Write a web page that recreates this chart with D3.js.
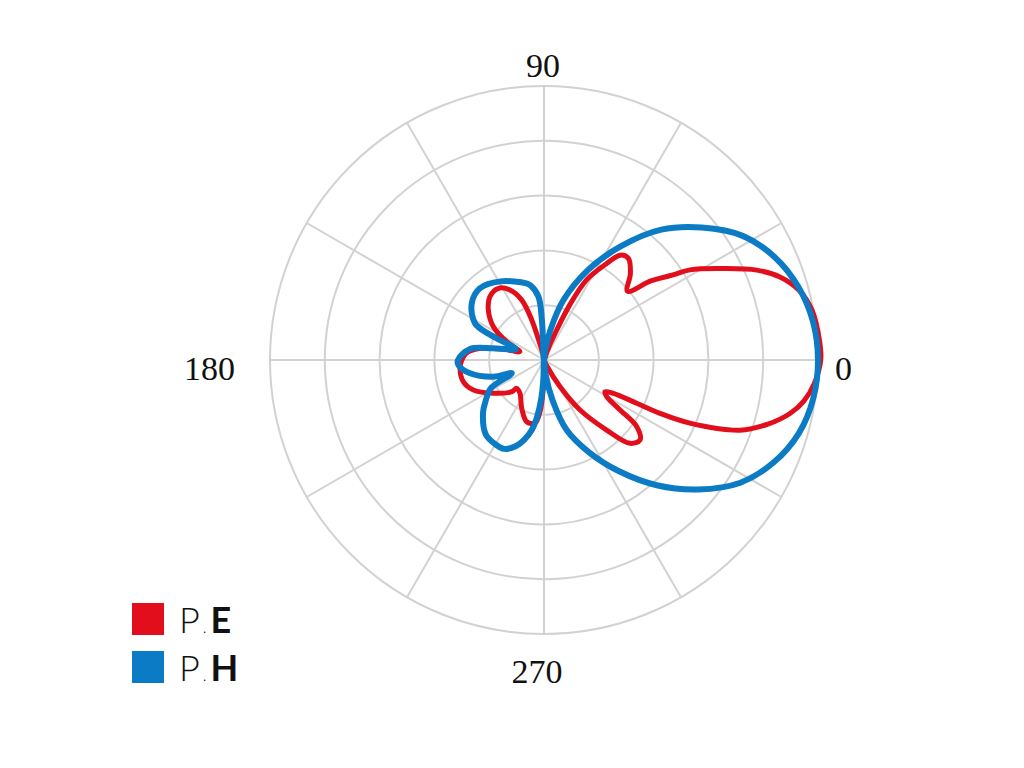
<!DOCTYPE html>
<html>
<head>
<meta charset="utf-8">
<script src="https://cdn.jsdelivr.net/npm/d3@7"></script>
<style>
  html, body { margin: 0; padding: 0; background: #ffffff; }
  svg { display: block; }
</style>
</head>
<body>
<svg id="chart" width="1024" height="768"></svg>
<script>
// ---- data (angle in degrees, counter-clockwise from 0 = right; radius normalised 0..1) ----
const seriesNames = ["P.E", "P.H"];
const angleTicks = [0, 90, 180, 270];
const ringTicks = [0.2, 0.4, 0.6, 0.8, 1.0];

const peAngles = [0, 4, 10.5, 15.3, 19.4, 22.9, 27, 31.7, 33.4, 36.5, 39.5, 45, 50.3, 54, 57, 62, 65, 67, 70, 78,
  100, 105, 107, 110.4, 115.9, 122.5, 130.5, 138.1, 146.7, 153.9, 160.9,
  165, 170, 175, 180, 185.6, 195, 203, 213.3, 224.5, 226,
  234.2, 245.2, 254.3, 261.9, 265.6, 268.6, 272, 285, 295,
  301, 305.8, 311.8, 315.9, 320.2, 324.3, 326.7, 329.7, 332.5, 334.3, 335, 335.3, 336.6, 340.3, 344, 347.8, 351, 355];
const peValues = [1.01, 1.008, 0.995, 0.965, 0.913, 0.843, 0.735, 0.626, 0.564, 0.485, 0.395, 0.446, 0.482, 0.473, 0.42, 0.331, 0.22, 0.12, 0.04, 0.0,
  0.02, 0.076, 0.153, 0.234, 0.284, 0.31, 0.304, 0.273, 0.221, 0.152, 0.093,
  0.15, 0.24, 0.285, 0.30, 0.308, 0.305, 0.28, 0.221, 0.165, 0.144,
  0.15, 0.194, 0.234, 0.233, 0.189, 0.103, 0.02, 0.0, 0.02,
  0.114, 0.225, 0.343, 0.437, 0.456, 0.417, 0.332, 0.265, 0.251, 0.281, 0.373, 0.466, 0.58, 0.76, 0.85, 0.92, 0.96, 0.99];

const phAngles = [0, 8, 16, 24, 32, 40, 48, 56, 64, 72, 78, 84, 88,
  93, 95, 100, 103, 119, 131.8, 141.9, 152, 155, 159,
  167, 171.5, 180, 183.3, 190.2, 198.2, 202.4,
  208, 215, 221, 232, 240, 246, 252, 256, 260, 263, 266, 268, 270,
  276, 282, 288, 296, 304, 312, 320, 328, 336, 344, 352];
const phValues = [1.0, 0.992, 0.966, 0.922, 0.855, 0.752, 0.64, 0.5, 0.365, 0.23, 0.11, 0.03, 0.0,
  0.146, 0.232, 0.275, 0.287, 0.328, 0.351, 0.335, 0.285, 0.215, 0.11,
  0.19, 0.273, 0.314, 0.313, 0.274, 0.195, 0.127,
  0.22, 0.26, 0.295, 0.345, 0.355, 0.355, 0.33, 0.30, 0.26, 0.21, 0.14, 0.07, 0.0,
  0.05, 0.15, 0.27, 0.375, 0.49, 0.615, 0.735, 0.845, 0.918, 0.968, 0.993];

const colors = ["#e30e1c", "#0a7bc4"];

// ---- layout ----
const svg = d3.select("#chart");
const cx = 544, cy = 360, R = 274;
const g = svg.append("g").attr("transform", `translate(${cx},${cy})`);

const r = d3.scaleLinear().domain([0, 1]).range([0, R]);
const toRad = d => (90 - d) * Math.PI / 180; // lineRadial angle: clockwise from 12 o'clock

// grid rings
g.selectAll("circle.ring").data(ringTicks).join("circle")
  .attr("class", "ring")
  .attr("r", d => r(d))
  .attr("fill", "none")
  .attr("stroke", "#d2d2d2")
  .attr("stroke-width", 2);

// spokes
const spokeAngles = d3.range(0, 360, 30);
g.selectAll("line.spoke").data(spokeAngles).join("line")
  .attr("class", "spoke")
  .attr("x1", 0).attr("y1", 0)
  .attr("x2", d => r(1) * Math.cos(d * Math.PI / 180))
  .attr("y2", d => -r(1) * Math.sin(d * Math.PI / 180))
  .attr("stroke", "#d2d2d2")
  .attr("stroke-width", 2);

// angle labels
const labelPos = {
  0:   {x: R + 17, y: 20, anchor: "start"},
  90:  {x: -1, y: -R - 9, anchor: "middle"},
  180: {x: -R - 35, y: 20, anchor: "end"},
  270: {x: -7, y: R + 49, anchor: "middle"}
};
g.selectAll("text.angle").data(angleTicks).join("text")
  .attr("class", "angle")
  .attr("x", d => labelPos[d].x)
  .attr("y", d => labelPos[d].y)
  .attr("text-anchor", d => labelPos[d].anchor)
  .attr("font-family", "'Liberation Serif', 'Times New Roman', serif")
  .attr("font-size", 34)
  .attr("fill", "#111")
  .text(d => String(d));

// curves
const line = d3.lineRadial()
  .angle(d => toRad(d.a))
  .radius(d => r(d.v))
  .curve(d3.curveCatmullRomClosed.alpha(0.5));

const peData = peAngles.map((a, i) => ({a, v: peValues[i]}));
const phData = phAngles.map((a, i) => ({a, v: phValues[i]}));

g.append("path").datum(peData)
  .attr("d", line)
  .attr("fill", "none")
  .attr("stroke", colors[0])
  .attr("stroke-width", 5)
  .attr("stroke-linejoin", "round");

g.append("path").datum(phData)
  .attr("d", line)
  .attr("fill", "none")
  .attr("stroke", colors[1])
  .attr("stroke-width", 6)
  .attr("stroke-linejoin", "round");

// legend
const legend = svg.append("g").attr("transform", "translate(132,603)");
seriesNames.forEach((name, i) => {
  const row = legend.append("g").attr("transform", `translate(0,${i * 48})`);
  row.append("rect").attr("width", 32).attr("height", 32).attr("fill", colors[i]);
  const parts = name.split(".");
  const t = row.append("text").attr("x", 47).attr("y", 30)
    .attr("font-family", "Lato, 'Open Sans', sans-serif")
    .attr("font-size", 36)
    .attr("fill", "#111");
  t.append("tspan").attr("font-weight", 300).text(parts[0]);
  t.append("tspan").attr("font-weight", 300).attr("font-size", 16).attr("dx", 3).text(".");
  t.append("tspan").attr("font-weight", 700).attr("dx", 4).text(parts[1]);
});
</script>
</body>
</html>
